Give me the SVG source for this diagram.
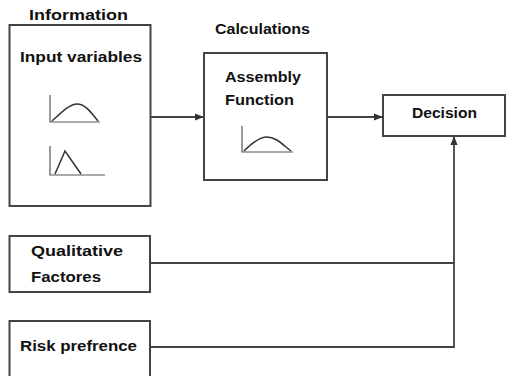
<svg xmlns="http://www.w3.org/2000/svg" width="522" height="376" viewBox="0 0 522 376">
<defs>
<style>
.box{fill:#fff;stroke:#444;stroke-width:2}
.t{font-family:"Liberation Sans",Arial,sans-serif;font-weight:bold;font-size:14px;fill:#111}
.c{fill:none;stroke:#333;stroke-width:1.5}
.ax{fill:none;stroke:#555;stroke-width:1.2}
.ln{fill:none;stroke:#444;stroke-width:1.8}
</style>
<marker id="ah" viewBox="0 0 10 10" refX="9" refY="5" markerWidth="5" markerHeight="5" orient="auto">
<path d="M0,1 L10,5 L0,9 z" fill="#333"/>
</marker>
</defs>
<rect width="522" height="376" fill="#fff"/>
<g id="connectors">
<line class="ln" x1="151" y1="117" x2="203" y2="117" marker-end="url(#ah)"/>
<line class="ln" x1="327" y1="117" x2="382" y2="117" marker-end="url(#ah)"/>
<polyline class="ln" points="151,263 454,263"/>
<polyline class="ln" points="151,347 454,347 454,137" marker-end="url(#ah)"/>
</g>
<g id="information">
<text class="t" x="29" y="20" textLength="99" lengthAdjust="spacingAndGlyphs">Information</text>
<rect class="box" x="9.5" y="25" width="141" height="181"/>
<text class="t" x="20" y="62" textLength="122" lengthAdjust="spacingAndGlyphs">Input variables</text>
<polyline class="ax" points="50,95 50,122 100,122"/>
<path class="c" d="M52,121 C62,112 70,104 77,104 C86,104 92,114 98,121"/>
<polyline class="ax" points="50,146 50,175 105,175"/>
<polyline class="c" points="55,174 65,151 81,174"/>
</g>
<g id="calculations">
<text class="t" x="215" y="34" textLength="95" lengthAdjust="spacingAndGlyphs">Calculations</text>
<rect class="box" x="204" y="53" width="123" height="127"/>
<text class="t" x="225" y="82" textLength="76" lengthAdjust="spacingAndGlyphs">Assembly</text>
<text class="t" x="225" y="105" textLength="69" lengthAdjust="spacingAndGlyphs">Function</text>
<polyline class="ax" points="242,126 242,152 293,152"/>
<path class="c" d="M244,151 C252,143 260,137 267,137 C276,137 283,145 291,151"/>
</g>
<g id="decision">
<rect class="box" x="383" y="95" width="122" height="41"/>
<text class="t" x="412" y="118" textLength="65" lengthAdjust="spacingAndGlyphs">Decision</text>
</g>
<g id="qualitative">
<rect class="box" x="9.5" y="236" width="140.5" height="56"/>
<text class="t" x="31" y="256" textLength="92" lengthAdjust="spacingAndGlyphs">Qualitative</text>
<text class="t" x="31" y="282" textLength="70" lengthAdjust="spacingAndGlyphs">Factores</text>
</g>
<g id="risk">
<rect class="box" x="9.5" y="321" width="140.5" height="60"/>
<text class="t" x="20" y="351" textLength="117" lengthAdjust="spacingAndGlyphs">Risk prefrence</text>
</g>
</svg>
